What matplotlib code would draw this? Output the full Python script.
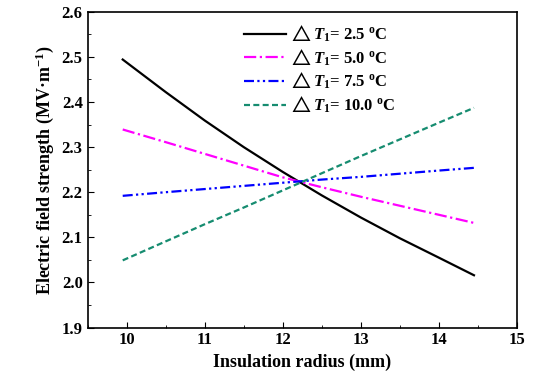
import numpy as np
import matplotlib
matplotlib.use("Agg")
import matplotlib.pyplot as plt
from matplotlib.ticker import MultipleLocator

# insulation radius (mm)
radius = [9.95, 10.5, 11.0, 11.5, 12.0, 12.5, 13.0, 13.5, 14.0, 14.45]

# electric field strength (MV/m) for each temperature difference
E_25 = [2.494, 2.422, 2.359, 2.300, 2.245, 2.193, 2.144, 2.098, 2.055, 2.016]
E_50 = [2.339, 2.311, 2.285, 2.259, 2.233, 2.211, 2.190, 2.170, 2.150, 2.132]
E_75 = [2.192, 2.200, 2.207, 2.214, 2.221, 2.228, 2.234, 2.241, 2.248, 2.254]
E_100 = [2.049, 2.091, 2.129, 2.166, 2.204, 2.242, 2.280, 2.317, 2.354, 2.387]

labels = ["2.5", "5.0", "7.5", "10.0"]

plt.rcParams['font.family'] = ['Liberation Serif', 'DejaVu Serif']
plt.rcParams['font.weight'] = 'bold'
plt.rcParams['mathtext.fontset'] = 'custom'
plt.rcParams['mathtext.rm'] = 'Liberation Serif:bold'
plt.rcParams['mathtext.it'] = 'Liberation Serif:italic:bold'
plt.rcParams['mathtext.bf'] = 'Liberation Serif:bold'
plt.rcParams['mathtext.fallback'] = 'stix'

fig = plt.figure(figsize=(5.39, 3.9), dpi=100)
ax = fig.add_axes([0.1625, 0.16, 0.7965, 0.81])

series = [E_25, E_50, E_75, E_100]
colors = ['black', '#ff00ff', '#0000ff', '#168c70']
styles = ['-', (0, (5.5, 1.6, 1, 1.6)), (0, (4.5, 1.5, 1, 1.5, 1, 1.5)), (0, (2.7, 1.5))]

for ys, c, ls, lab in zip(series, colors, styles, labels):
    ax.plot(radius, ys, color=c, linestyle=ls, linewidth=1.6,
            label=r'$\triangle T_\mathregular{1}$= ' + lab + r' $\mathregular{^o}$C')

ax.set_xlim(9.5, 15)
ax.set_ylim(1.9, 2.6)
ax.xaxis.set_major_locator(MultipleLocator(1))
ax.xaxis.set_minor_locator(MultipleLocator(0.5))
ax.yaxis.set_major_locator(MultipleLocator(0.1))
ax.yaxis.set_minor_locator(MultipleLocator(0.05))
ax.yaxis.set_major_formatter(plt.FuncFormatter(lambda v, p: '%.1f' % v))
ax.tick_params(which='both', direction='in', top=False, right=False, labelsize=12)
ax.tick_params(which='major', length=4)
ax.tick_params(which='minor', length=2.5)
for sp in ax.spines.values():
    sp.set_linewidth(1.2)

ax.set_xlabel('Insulation radius (mm)', fontsize=13, fontweight='bold')
ax.set_ylabel('Electric field strength (MV·m' + r'$^{\mathregular{-1}}$)', fontsize=13, fontweight='bold')

ax.legend(loc='upper left', bbox_to_anchor=(0.33, 1.01), frameon=False, fontsize=12,
          handlelength=2.5, labelspacing=0.2, handletextpad=0.2)

fig.savefig('out.png', dpi=100)
